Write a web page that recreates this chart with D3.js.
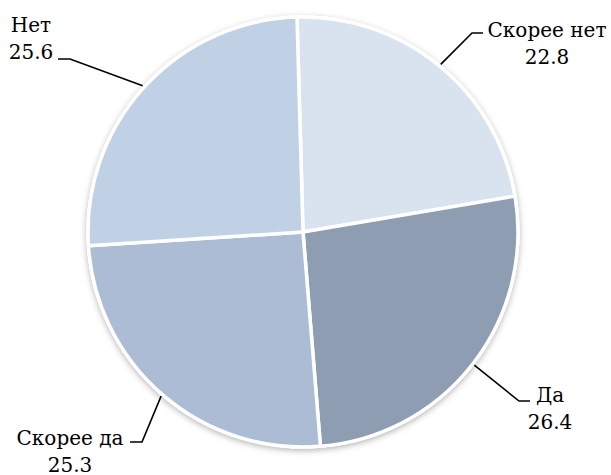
<!DOCTYPE html>
<html>
<head>
<meta charset="utf-8">
<script src="https://cdn.jsdelivr.net/npm/d3@7"></script>
</head>
<body style="margin:0;padding:0;background:#fff;">
<svg id="chart" width="611" height="475" style="display:block;"></svg>
<script>
// Data
const categories = ["Скорее нет", "Да", "Скорее да", "Нет"];
const values = [22.8, 26.4, 25.3, 25.6];
const colors = ["#d9e3ef", "#8e9db1", "#abbcd4", "#c1d1e5"];

// Layout (label anchor positions and elbow of leader line)
const labelLayout = [
  { x: 547, y: 37, elbowX: 472, elbowY: 33, endX: 483 },
  { x: 550, y: 402, elbowX: 519, elbowY: 401, endX: 530 },
  { x: 70, y: 445, elbowX: 142, elbowY: 442, endX: 130 },
  { x: 31, y: 32, elbowX: 70, elbowY: 59, endX: 58 }
];
const FONT = "'DejaVu Serif', 'Liberation Serif', serif";
const FONT_SIZE = 20;

const svg = d3.select("#chart");
const cx = 303, cy = 232, r = 215;

const defs = svg.append("defs");
const f = defs.append("filter").attr("id", "shadow")
  .attr("x", "-20%").attr("y", "-20%").attr("width", "140%").attr("height", "140%");
f.append("feDropShadow").attr("dx", 0).attr("dy", 2).attr("stdDeviation", 3)
  .attr("flood-color", "#000").attr("flood-opacity", 0.3);

const startA = -1.6 * Math.PI / 180;
const pie = d3.pie().sort(null).value(d => d)
  .startAngle(startA).endAngle(startA + 2 * Math.PI);
const arcs = pie(values);
const arc = d3.arc().innerRadius(0).outerRadius(r);

const g = svg.append("g").attr("transform", `translate(${cx},${cy})`);

g.append("circle").attr("r", r + 1.5).attr("fill", "#fff").attr("filter", "url(#shadow)");

g.selectAll("path.slice").data(arcs).enter().append("path")
  .attr("class", "slice")
  .attr("d", arc)
  .attr("fill", (d, i) => colors[i])
  .attr("stroke", "#fff")
  .attr("stroke-width", 3.5)
  .attr("stroke-linejoin", "round");

arcs.forEach((d, i) => {
  const mid = (d.startAngle + d.endAngle) / 2;
  const p = [cx + (r + 2) * Math.sin(mid), cy - (r + 2) * Math.cos(mid)];
  const L = labelLayout[i];
  svg.append("polyline")
    .attr("points", [p, [L.elbowX, L.elbowY], [L.endX, L.elbowY]].map(q => q.join(",")).join(" "))
    .attr("fill", "none").attr("stroke", "#000").attr("stroke-width", 1.6);
  const t = svg.append("text")
    .attr("text-anchor", "middle")
    .attr("font-family", FONT)
    .attr("font-size", FONT_SIZE)
    .style("font-family", FONT)
    .style("font-size", FONT_SIZE + "px")
    .attr("fill", "#000")
    .attr("x", L.x).attr("y", L.y);
  t.append("tspan").attr("x", L.x).attr("y", L.y).text(categories[i]);
  t.append("tspan").attr("x", L.x).attr("y", L.y + 27).text(values[i].toFixed(1));
});
</script>
</body>
</html>
